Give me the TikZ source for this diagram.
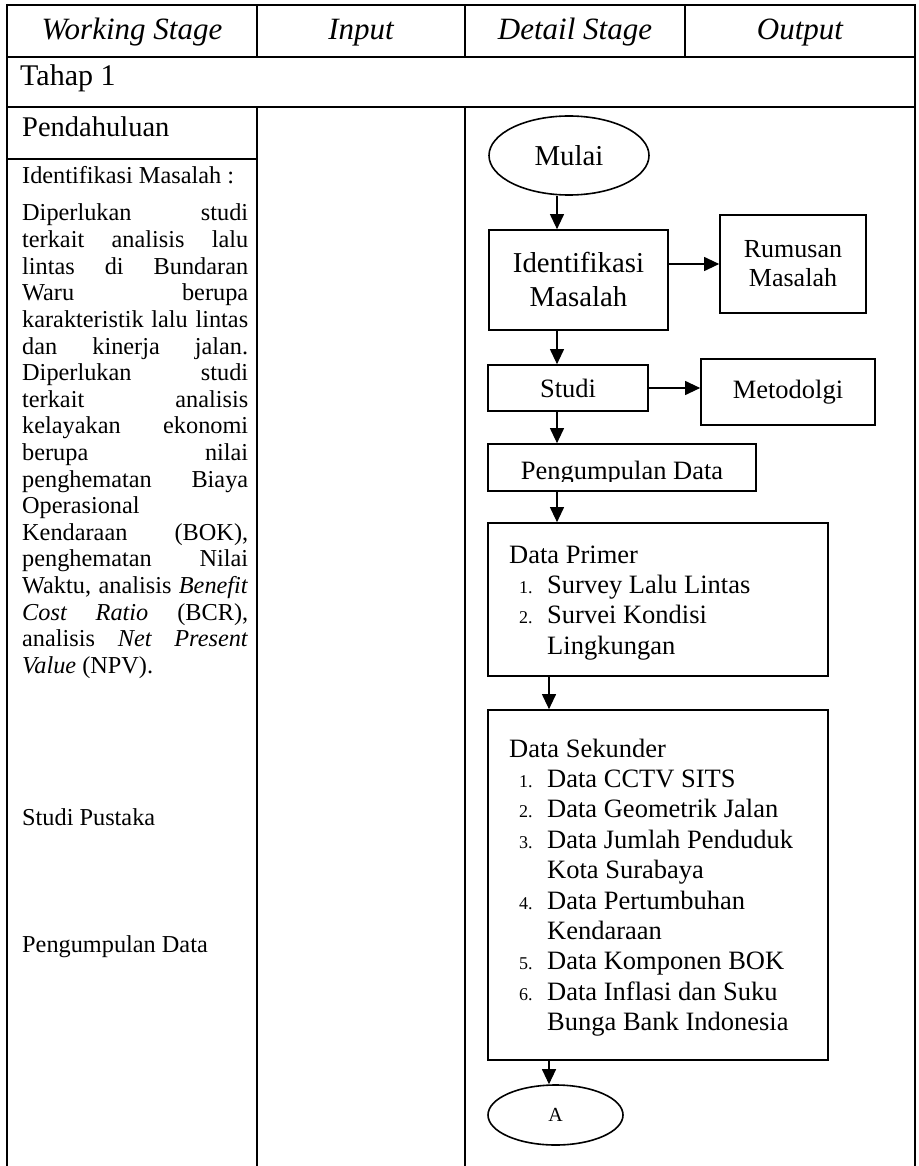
\documentclass[tikz,border=0pt]{standalone}
\usepackage{fontspec}
\setmainfont{Liberation Serif}
\usetikzlibrary{arrows.meta,shapes.geometric}

% font sizes (1pt = 1 unit of the drawing)
\newcommand\fsHead{\fontsize{31}{35}\selectfont}
\newcommand\fsTahap{\fontsize{30}{34}\selectfont}
\newcommand\fsPend{\fontsize{28.5}{32}\selectfont}
\newcommand\fsBody{\fontsize{24.3}{26.6}\selectfont}
\newcommand\fsBig{\fontsize{28.8}{34}\selectfont}
\newcommand\fsFlow{\fontsize{26.5}{29}\selectfont}
\newcommand\fsNum{\fontsize{18}{20}\selectfont}
\newcommand\fsA{\fontsize{20}{22}\selectfont}
% one justified line of the description column
\newcommand\jline[1]{\makebox[226pt][s]{#1}}

\begin{document}
\begin{tikzpicture}[x=1pt,y=-1pt,
  frame/.style={line width=2.2pt},
  rule/.style={line width=2pt},
  hair/.style={line width=1.1pt},
  box/.style={draw,line width=1.7pt,inner sep=0pt,align=center,font=\fsFlow},
  term/.style={draw,ellipse,line width=1.6pt,inner sep=0pt},
  arr/.style={line width=1.1pt,-{Triangle[length=15pt,width=14pt]}},
  hd/.style={anchor=base,font=\fsHead\itshape,inner sep=0pt},
  lefttxt/.style={anchor=base west,font=\fsBody,inner sep=0pt},
  itm/.style={anchor=base west,font=\fsFlow,inner sep=0pt},
  num/.style={anchor=base west,font=\fsNum,inner sep=0pt}]

\useasboundingbox (0,0) rectangle (918,1166);

% ---------- table grid ----------
\draw[frame] (7,5) -- (915,5);
\draw[frame] (7,4) -- (7,1166);
\draw[frame] (915,4) -- (915,1166);
\draw[rule] (7,57) -- (915,57);
\draw[rule] (7,107) -- (915,107);
\draw[rule] (7,159) -- (257,159);
\draw[hair] (257,5) -- (257,57);
\draw[hair] (465,5) -- (465,57);
\draw[hair] (685,5) -- (685,57);
\draw[hair] (257,107) -- (257,159);
\draw[rule] (257,159) -- (257,1166);
\draw[line width=1.5pt] (465,107) -- (465,1166);

% ---------- header row ----------
\node[hd] (hws) at (132,40) {Working Stage};
\node[hd] (hin) at (361,40) {Input};
\node[hd] (hds) at (575,40) {Detail Stage};
\node[hd] (hout) at (800,40) {Output};

\node[anchor=base west,font=\fsTahap,inner sep=0pt] (tahap) at (20,86) {Tahap 1};

% ---------- working stage column ----------
\node[anchor=base west,font=\fsPend,inner sep=0pt] (pend) at (22,137) {Pendahuluan};
\node[lefttxt] (idmh) at (22,184) {Identifikasi Masalah :};

\foreach \ln [count=\i from 0] in {
  {\jline{Diperlukan studi}},
  {\jline{terkait analisis lalu}},
  {\jline{lintas di Bundaran}},
  {\jline{Waru berupa}},
  {\jline{karakteristik lalu lintas}},
  {\jline{dan kinerja jalan.}},
  {\jline{Diperlukan studi}},
  {\jline{terkait analisis}},
  {\jline{kelayakan ekonomi}},
  {\jline{berupa nilai}},
  {\jline{penghematan Biaya}},
  {Operasional},
  {\jline{Kendaraan (BOK),}},
  {\jline{penghematan Nilai}},
  {\jline{Waktu, analisis \textit{Benefit}}},
  {\jline{\textit{Cost Ratio} (BCR),}},
  {\jline{analisis \textit{Net Present}}},
  {\textit{Value} (NPV).}}
  {\node[lefttxt] (desc\i) at (22,221+26.6*\i) {\ln};}

\node[lefttxt] (pustaka) at (22,825) {Studi Pustaka};
\node[lefttxt] (kumpul) at (22,952) {Pengumpulan Data};

% ---------- flowchart ----------
\coordinate (ax1) at (557,0);
\coordinate (ax2) at (549,0);

\node[term,minimum width=160pt,minimum height=79pt,font=\fsBig] (mulai) at (569,155.5) {Mulai};
\node[box,minimum width=179pt,minimum height=100pt,font=\fsBig] (idm) at (578.5,280) {Identifikasi\\Masalah};
\node[box,minimum width=146pt,minimum height=98pt,font=\fontsize{26}{29}\selectfont] (rum) at (793,264) {Rumusan\\Masalah};
\node[box,minimum width=160pt,minimum height=46pt] (studi) at (568,388) {Studi};
\node[box,minimum width=174pt,minimum height=66pt] (meto) at (788,392) {Metodolgi};
\node[box,minimum width=268pt,minimum height=47pt] (pd) at (622,467.5) {};
\begin{scope}
  \clip (pd.north west) rectangle ([yshift=10pt]pd.south east);
  \node[anchor=base,font=\fsFlow,inner sep=0pt] (pdtext) at ([yshift=12.5pt]pd.south) {Pengumpulan Data};
\end{scope}

\node[box,minimum width=340pt,minimum height=153pt] (dp) at (658,599.5) {};
\node[itm] (dph) at (509,563) {Data Primer};
\node[num] (dpn1) at (519,593) {1.};
\node[itm] (dpi1) at (547,593) {Survey Lalu Lintas};
\node[num] (dpn2) at (519,623.5) {2.};
\node[itm] (dpi2) at (547,623.5) {Survei Kondisi};
\node[itm] (dpi2b) at (547,654) {Lingkungan};

\node[box,minimum width=340pt,minimum height=350pt] (ds) at (658,885) {};
\node[itm] (dsh) at (509,757) {Data Sekunder};
\node[num] (dsn1) at (519,787.4) {1.};
\node[itm] (dsi1) at (547,787.4) {Data CCTV SITS};
\node[num] (dsn2) at (519,817.8) {2.};
\node[itm] (dsi2) at (547,817.8) {Data Geometrik Jalan};
\node[num] (dsn3) at (519,848.2) {3.};
\node[itm] (dsi3) at (547,848.2) {Data Jumlah Penduduk};
\node[itm] (dsi3b) at (547,878.6) {Kota Surabaya};
\node[num] (dsn4) at (519,909) {4.};
\node[itm] (dsi4) at (547,909) {Data Pertumbuhan};
\node[itm] (dsi4b) at (547,939.4) {Kendaraan};
\node[num] (dsn5) at (519,969.8) {5.};
\node[itm] (dsi5) at (547,969.8) {Data Komponen BOK};
\node[num] (dsn6) at (519,1000.2) {6.};
\node[itm] (dsi6) at (547,1000.2) {Data Inflasi dan Suku};
\node[itm] (dsi6b) at (547,1030.6) {Bunga Bank Indonesia};

\node[term,minimum width=135pt,minimum height=60pt,font=\fsA] (nodeA) at (555.5,1115) {A};

% ---------- connectors ----------
\draw[arr] (mulai.south -| ax1) -- (idm.north -| ax1);
\draw[arr] (idm.east |- rum.west) -- (rum.west);
\draw[arr] (idm.south -| ax1) -- (studi.north -| ax1);
\draw[arr] (studi.east) -- (studi.east -| meto.west);
\draw[arr] (studi.south -| ax1) -- (pd.north -| ax1);
\draw[arr] (pd.south -| ax1) -- (dp.north -| ax1);
\draw[arr] (dp.south -| ax2) -- (ds.north -| ax2);
\draw[arr] (ds.south -| ax2) -- (nodeA.north -| ax2);

\end{tikzpicture}
\end{document}
